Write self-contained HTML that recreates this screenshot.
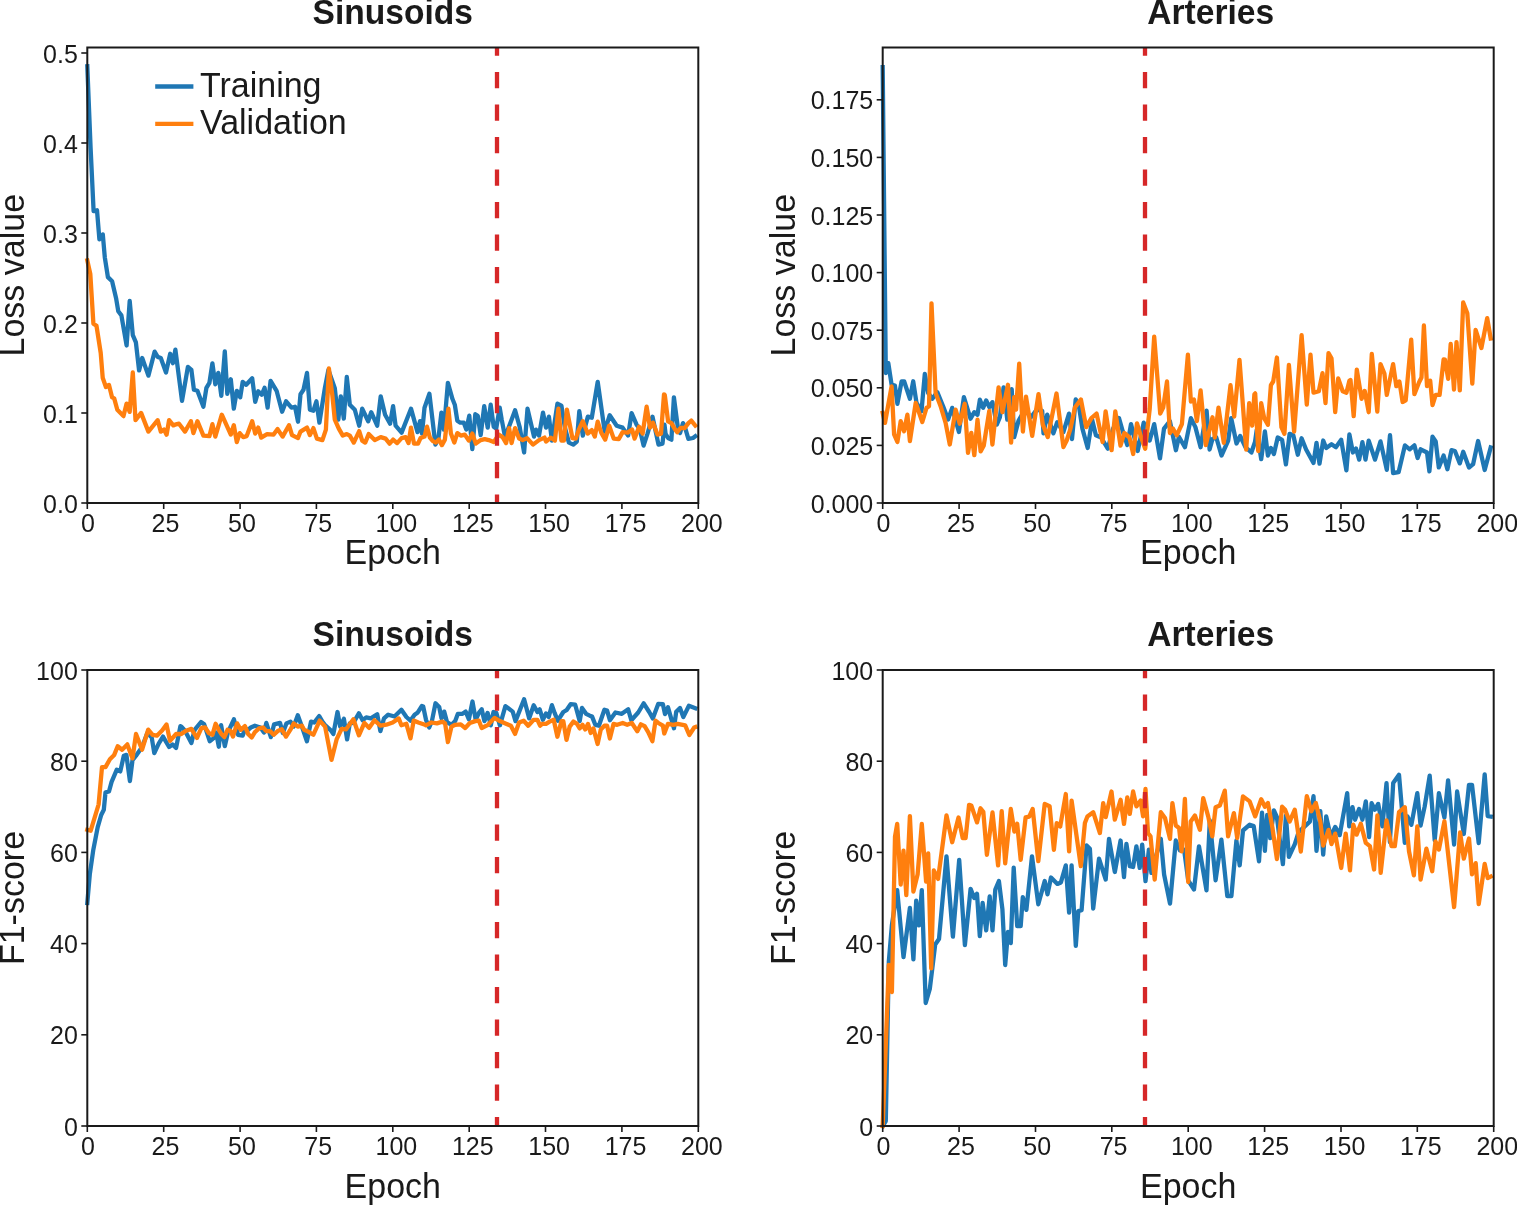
<!DOCTYPE html><html><head><meta charset="utf-8"><title>Training curves</title><style>
html,body{margin:0;padding:0;background:#fff;}body{width:1517px;height:1205px;overflow:hidden;}
svg{display:block;}text{font-family:"Liberation Sans", Arial, Helvetica, sans-serif;fill:#1a1a1a;}
.tk{font-size:25px;}.lb{font-size:34px;}.ti{font-size:33.6px;font-weight:bold;}
</style></head><body>
<svg width="1517" height="1205" viewBox="0 0 1517 1205">
<rect width="1517" height="1205" fill="#fff"/>
<g fill="none" stroke-width="4.3" stroke-linejoin="round" stroke-linecap="square">
<polyline stroke="#1f77b4" points="87.3,66.3 90.6,148.0 93.6,211.1 97.0,210.3 99.4,239.4 102.8,234.4 104.8,257.3 107.9,277.1 112.1,281.2 116.2,298.8 118.3,311.3 121.4,315.4 126.6,345.5 129.7,300.9 132.8,335.1 135.9,342.4 139.1,370.4 142.2,358.0 148.4,375.6 154.6,351.7 157.7,356.9 160.8,358.0 166.0,372.5 170.2,353.8 172.9,363.2 175.4,349.7 182.0,400.8 187.9,366.9 191.4,369.9 193.9,389.8 197.4,390.8 203.4,406.7 206.4,387.8 209.4,382.8 212.4,363.4 215.3,384.3 218.3,372.9 221.3,395.8 224.8,351.5 227.3,393.8 230.8,379.3 233.8,408.7 236.8,390.8 240.2,397.3 242.7,381.8 246.2,384.8 252.2,378.3 255.2,401.8 258.2,391.3 261.7,394.8 264.6,387.8 267.6,407.7 270.6,380.8 276.6,390.8 282.1,411.7 286.1,401.3 291.5,407.7 295.0,406.7 298.0,421.7 300.5,394.3 303.5,389.8 307.0,372.9 309.9,409.7 313.4,410.7 316.4,401.3 319.4,422.7 324.9,387.8 328.4,369.9 334.8,388.3 338.3,419.7 340.8,396.3 343.8,418.7 346.8,376.9 349.8,404.7 354.8,409.7 359.2,425.7 362.2,408.7 368.2,421.2 371.2,412.2 377.2,425.7 380.7,396.3 385.1,414.7 390.1,423.7 393.1,406.2 395.6,425.7 401.6,432.6 411.0,408.7 417.5,432.1 420.0,421.2 422.0,433.6 424.5,407.7 429.4,393.8 435.4,444.6 438.4,438.6 441.4,412.7 443.9,429.6 447.9,382.8 452.4,398.8 454.8,404.7 457.3,420.7 460.3,422.7 463.8,422.7 466.3,429.6 469.3,415.7 472.3,449.1 475.3,414.2 477.7,415.7 480.7,435.1 484.2,406.2 487.7,427.6 490.7,404.7 493.7,426.7 496.2,428.6 499.7,407.7 501.7,419.7 505.1,437.1 515.1,410.2 519.6,426.7 524.1,452.5 527.5,408.7 534.0,436.6 536.0,429.6 539.0,435.6 543.0,412.7 546.0,427.6 548.9,416.7 551.9,440.6 557.4,403.7 561.4,405.7 564.9,427.6 568.9,442.6 573.3,444.6 576.8,441.6 579.3,411.2 582.8,435.6 587.8,416.7 591.8,417.7 597.7,381.8 604.7,431.6 609.7,415.2 616.7,425.7 622.6,427.6 628.1,435.6 631.6,413.2 636.6,424.7 639.6,428.6 643.6,445.6 647.5,433.6 652.5,416.7 658.5,444.6 662.5,443.6 664.5,424.7 665.6,433.9 668.1,438.0 671.4,439.7 673.9,397.3 678.0,428.9 680.1,433.0 683.0,423.1 684.7,426.4 688.4,438.8 693.0,438.0 695.3,436.3"/>
<polyline stroke="#ff7f0e" points="87.3,260.5 90.3,273.9 93.4,323.7 96.5,325.8 100.7,352.8 102.7,377.7 105.9,387.0 109.0,384.9 112.1,397.4 114.2,398.4 117.3,409.8 123.5,416.1 126.6,403.6 129.7,411.9 132.8,372.5 135.5,420.2 141.1,412.9 148.4,431.6 157.7,420.2 160.8,431.6 164.0,429.5 166.6,434.7 169.1,420.2 173.3,425.4 175.0,424.7 179.0,423.7 185.0,431.6 190.9,421.2 193.4,433.1 197.4,421.2 203.4,435.6 209.4,436.1 212.4,424.2 215.3,436.6 221.8,414.7 230.8,434.6 233.8,425.2 236.8,442.1 239.7,433.1 243.2,437.1 246.7,436.1 252.2,421.2 255.2,433.6 258.2,427.6 261.2,437.6 267.1,434.1 273.6,434.6 277.6,429.1 282.6,436.6 289.0,425.2 292.0,435.1 298.0,438.1 300.5,431.6 307.0,427.6 309.9,435.1 313.4,428.1 316.9,438.6 322.4,440.1 325.9,429.6 328.9,368.4 332.4,395.8 334.8,419.7 338.8,428.6 342.8,435.6 346.8,434.1 349.8,435.6 353.8,442.6 359.2,431.1 362.2,440.6 365.2,442.6 368.7,434.1 374.7,440.1 380.7,437.1 385.6,438.6 389.6,443.6 393.1,439.6 397.1,443.1 401.6,438.1 405.6,437.1 408.5,443.1 411.0,427.6 414.0,443.6 418.0,443.6 420.5,438.1 424.5,436.6 427.0,426.7 429.9,437.6 432.9,441.1 435.9,442.6 438.9,439.6 441.9,445.1 444.9,439.6 448.4,408.7 450.9,433.6 454.3,442.6 457.3,433.1 460.8,435.6 464.8,434.6 468.8,440.6 472.3,433.6 475.8,443.6 480.7,440.1 484.7,439.1 488.7,440.1 493.7,442.1 498.7,434.6 502.6,437.1 506.1,443.1 509.1,428.1 511.6,443.1 515.1,428.1 519.1,438.6 522.6,440.1 527.1,438.1 533.0,444.6 539.0,440.1 544.5,437.6 546.0,441.6 550.9,437.6 554.9,440.6 558.4,408.7 561.4,440.6 563.9,440.6 566.9,409.7 572.4,438.1 575.8,438.6 578.8,429.6 582.8,421.2 587.8,433.6 591.8,430.1 594.8,436.6 597.7,421.7 601.2,432.6 605.2,439.6 609.2,425.7 613.7,438.6 618.7,439.1 622.6,432.1 627.6,432.6 632.1,429.6 634.6,438.6 639.1,426.7 642.6,433.6 646.6,406.7 650.0,427.6 653.0,422.7 657.5,434.6 661.0,433.6 664.0,394.3 664.8,394.9 668.1,421.4 671.4,423.1 674.7,428.9 677.2,432.2 680.5,428.0 684.7,428.0 688.4,423.1 691.3,420.6 695.3,425.6"/>
</g>
<line x1="497.0" y1="47.5" x2="497.0" y2="503.0" stroke="#d62728" stroke-width="4.3" stroke-dasharray="16.3,16.2" stroke-dashoffset="8"/>
<rect x="87.3" y="47.5" width="611.0" height="455.5" fill="none" stroke="#1a1a1a" stroke-width="2"/>
<line x1="87.3" y1="503.0" x2="87.3" y2="509.0" stroke="#1a1a1a" stroke-width="1.6"/>
<text class="tk" x="88.0" y="532.4" text-anchor="middle">0</text>
<line x1="163.7" y1="503.0" x2="163.7" y2="509.0" stroke="#1a1a1a" stroke-width="1.6"/>
<text class="tk" x="165.5" y="532.4" text-anchor="middle">25</text>
<line x1="240.1" y1="503.0" x2="240.1" y2="509.0" stroke="#1a1a1a" stroke-width="1.6"/>
<text class="tk" x="241.9" y="532.4" text-anchor="middle">50</text>
<line x1="316.4" y1="503.0" x2="316.4" y2="509.0" stroke="#1a1a1a" stroke-width="1.6"/>
<text class="tk" x="318.2" y="532.4" text-anchor="middle">75</text>
<line x1="392.8" y1="503.0" x2="392.8" y2="509.0" stroke="#1a1a1a" stroke-width="1.6"/>
<text class="tk" x="396.4" y="532.4" text-anchor="middle">100</text>
<line x1="469.2" y1="503.0" x2="469.2" y2="509.0" stroke="#1a1a1a" stroke-width="1.6"/>
<text class="tk" x="472.8" y="532.4" text-anchor="middle">125</text>
<line x1="545.5" y1="503.0" x2="545.5" y2="509.0" stroke="#1a1a1a" stroke-width="1.6"/>
<text class="tk" x="549.1" y="532.4" text-anchor="middle">150</text>
<line x1="621.9" y1="503.0" x2="621.9" y2="509.0" stroke="#1a1a1a" stroke-width="1.6"/>
<text class="tk" x="625.5" y="532.4" text-anchor="middle">175</text>
<line x1="698.3" y1="503.0" x2="698.3" y2="509.0" stroke="#1a1a1a" stroke-width="1.6"/>
<text class="tk" x="701.9" y="532.4" text-anchor="middle">200</text>
<line x1="81.3" y1="503.0" x2="87.3" y2="503.0" stroke="#1a1a1a" stroke-width="1.6"/>
<text class="tk" x="77.8" y="512.6" text-anchor="end">0.0</text>
<line x1="81.3" y1="413.0" x2="87.3" y2="413.0" stroke="#1a1a1a" stroke-width="1.6"/>
<text class="tk" x="77.8" y="422.6" text-anchor="end">0.1</text>
<line x1="81.3" y1="323.0" x2="87.3" y2="323.0" stroke="#1a1a1a" stroke-width="1.6"/>
<text class="tk" x="77.8" y="332.6" text-anchor="end">0.2</text>
<line x1="81.3" y1="233.0" x2="87.3" y2="233.0" stroke="#1a1a1a" stroke-width="1.6"/>
<text class="tk" x="77.8" y="242.6" text-anchor="end">0.3</text>
<line x1="81.3" y1="143.0" x2="87.3" y2="143.0" stroke="#1a1a1a" stroke-width="1.6"/>
<text class="tk" x="77.8" y="152.6" text-anchor="end">0.4</text>
<line x1="81.3" y1="53.0" x2="87.3" y2="53.0" stroke="#1a1a1a" stroke-width="1.6"/>
<text class="tk" x="77.8" y="62.6" text-anchor="end">0.5</text>
<text class="lb" transform="translate(392.8,564.0) scale(1,1.033)" text-anchor="middle">Epoch</text>
<text class="ti" transform="translate(392.8,24.1) scale(1,1.033)" text-anchor="middle">Sinusoids</text>
<text class="lb" transform="translate(24.0,275.2) rotate(-90) scale(1,1.033)" text-anchor="middle">Loss value</text>
<g fill="none" stroke-width="4.3" stroke-linejoin="round" stroke-linecap="square">
<polyline stroke="#1f77b4" points="882.7,67.2 885.8,373.0 888.3,363.1 891.6,384.7 894.9,385.5 897.4,403.8 901.6,381.3 904.1,381.3 909.9,398.8 913.2,381.3 916.5,402.9 921.5,411.2 924.8,373.9 928.2,393.0 932.3,398.8 937.3,392.1 943.1,406.2 948.1,419.5 952.2,407.9 958.9,432.0 963.9,397.1 970.5,418.7 974.3,412.2 977.5,414.7 979.9,399.7 983.1,407.8 986.2,400.4 989.3,407.2 992.4,402.2 996.8,424.6 999.9,417.2 1003.6,387.3 1007.3,419.7 1011.7,389.2 1014.2,437.1 1018.5,420.9 1024.8,409.7 1031.0,417.2 1036.6,409.7 1042.2,410.9 1043.5,433.4 1047.2,414.7 1053.4,433.4 1057.2,422.2 1063.4,432.1 1069.0,413.6 1072.0,439.0 1075.7,399.4 1078.7,404.6 1082.4,428.6 1087.7,448.0 1092.1,419.6 1095.9,435.3 1101.1,437.5 1107.8,448.7 1113.1,428.6 1119.0,418.1 1122.8,431.5 1127.3,445.0 1131.0,424.1 1137.7,451.0 1143.7,422.6 1149.7,440.5 1154.2,424.1 1160.0,458.4 1164.0,428.6 1169.9,421.1 1175.9,450.2 1178.9,436.8 1184.9,447.2 1190.9,418.1 1195.4,427.1 1200.6,447.2 1206.6,410.6 1209.6,449.5 1212.5,439.0 1216.3,437.5 1221.5,455.5 1228.2,440.5 1231.2,418.1 1236.5,443.5 1240.2,436.0 1245.4,447.2 1251.4,452.5 1255.0,442.0 1256.7,430.0 1261.2,459.2 1264.9,431.5 1267.9,455.5 1270.9,448.0 1273.9,454.0 1277.7,437.5 1282.1,439.8 1285.9,464.4 1289.6,433.8 1293.3,435.3 1297.8,454.7 1301.6,438.3 1306.1,449.5 1313.5,462.9 1316.5,442.8 1319.5,463.7 1323.2,440.5 1326.2,448.0 1331.5,444.2 1335.9,447.2 1341.2,439.8 1346.4,470.4 1349.4,434.5 1352.9,452.5 1356.0,448.5 1359.2,459.6 1362.4,442.2 1365.5,459.6 1368.7,440.6 1375.0,459.6 1380.5,441.4 1386.8,469.8 1390.0,435.1 1393.1,473.0 1398.6,472.2 1404.9,445.4 1409.7,449.3 1414.4,445.4 1417.6,458.0 1420.7,449.3 1427.0,452.5 1429.4,471.4 1432.5,436.7 1435.7,441.4 1438.8,467.4 1443.6,455.6 1447.4,469.2 1451.5,450.1 1454.9,451.0 1459.8,463.4 1463.2,451.8 1469.0,467.6 1473.1,464.2 1478.1,441.0 1484.7,470.0 1490.7,447.5"/>
<polyline stroke="#ff7f0e" points="882.7,412.9 885.0,422.9 891.6,386.3 894.1,434.5 897.4,442.0 900.7,421.2 904.1,431.2 907.4,414.6 909.9,441.1 915.7,402.9 922.3,422.0 926.5,407.9 929.0,406.2 931.5,303.3 935.6,393.0 940.6,406.2 945.6,422.9 949.8,444.5 955.6,409.6 959.7,423.7 964.7,403.8 968.0,452.8 971.3,432.8 974.3,455.2 977.5,419.7 980.6,451.4 983.7,445.8 989.3,410.9 992.4,444.6 998.6,387.3 1002.4,412.2 1008.0,384.8 1011.1,442.7 1014.2,397.2 1016.1,409.7 1019.2,363.6 1022.9,431.5 1026.0,396.6 1032.2,435.9 1038.5,394.1 1042.8,424.6 1047.8,437.1 1056.5,393.5 1063.4,447.1 1066.7,440.5 1070.5,428.6 1074.9,407.6 1080.9,399.4 1086.2,427.1 1091.4,418.1 1096.6,413.6 1102.6,442.0 1105.6,411.4 1111.6,450.2 1115.3,411.4 1120.5,445.7 1124.3,433.0 1129.5,437.5 1133.2,454.0 1137.0,423.3 1141.5,438.3 1145.2,448.7 1149.7,409.1 1154.2,336.6 1160.2,413.6 1163.2,407.6 1167.0,381.5 1169.9,433.0 1172.9,428.6 1176.7,435.3 1181.9,424.1 1187.9,354.6 1190.9,401.6 1193.9,399.4 1196.9,421.1 1200.6,390.4 1205.8,445.0 1212.5,417.3 1214.8,437.5 1218.5,407.6 1223.8,442.8 1230.5,385.2 1234.2,416.6 1239.5,359.8 1246.2,449.5 1249.2,403.1 1252.2,425.6 1254.4,394.2 1255.2,393.4 1258.2,451.0 1261.2,403.1 1264.2,418.1 1267.9,424.8 1270.9,385.2 1273.2,381.5 1276.9,357.5 1281.4,427.1 1284.4,433.8 1288.9,365.0 1294.1,431.5 1301.6,335.1 1306.8,404.6 1310.5,354.6 1313.5,392.7 1318.8,391.2 1322.5,373.2 1325.5,403.1 1328.5,353.1 1331.5,358.3 1335.2,412.1 1338.2,378.5 1342.7,391.2 1346.4,392.7 1349.4,380.7 1350.5,379.9 1353.7,416.2 1356.8,369.7 1361.6,398.8 1364.7,390.9 1368.7,412.2 1371.8,353.9 1377.3,411.5 1380.5,364.1 1384.4,373.6 1386.8,394.9 1393.1,364.1 1396.3,386.2 1399.4,381.5 1402.6,402.0 1405.7,400.4 1411.2,339.7 1414.4,394.1 1419.1,382.3 1421.5,377.5 1423.9,325.5 1427.0,386.2 1430.2,380.7 1432.5,405.1 1435.7,394.9 1439.6,394.9 1443.6,359.4 1444.9,359.7 1448.2,378.8 1450.7,343.9 1454.0,389.5 1456.5,342.2 1459.8,390.4 1463.2,302.4 1467.3,313.2 1472.3,383.7 1475.6,329.8 1481.4,348.0 1487.2,318.2 1490.7,338.6"/>
</g>
<line x1="1145.0" y1="47.5" x2="1145.0" y2="503.0" stroke="#d62728" stroke-width="4.3" stroke-dasharray="16.3,16.2" stroke-dashoffset="8"/>
<rect x="882.7" y="47.5" width="611.0" height="455.5" fill="none" stroke="#1a1a1a" stroke-width="2"/>
<line x1="882.7" y1="503.0" x2="882.7" y2="509.0" stroke="#1a1a1a" stroke-width="1.6"/>
<text class="tk" x="883.4" y="532.4" text-anchor="middle">0</text>
<line x1="959.1" y1="503.0" x2="959.1" y2="509.0" stroke="#1a1a1a" stroke-width="1.6"/>
<text class="tk" x="960.9" y="532.4" text-anchor="middle">25</text>
<line x1="1035.5" y1="503.0" x2="1035.5" y2="509.0" stroke="#1a1a1a" stroke-width="1.6"/>
<text class="tk" x="1037.2" y="532.4" text-anchor="middle">50</text>
<line x1="1111.8" y1="503.0" x2="1111.8" y2="509.0" stroke="#1a1a1a" stroke-width="1.6"/>
<text class="tk" x="1113.6" y="532.4" text-anchor="middle">75</text>
<line x1="1188.2" y1="503.0" x2="1188.2" y2="509.0" stroke="#1a1a1a" stroke-width="1.6"/>
<text class="tk" x="1191.8" y="532.4" text-anchor="middle">100</text>
<line x1="1264.6" y1="503.0" x2="1264.6" y2="509.0" stroke="#1a1a1a" stroke-width="1.6"/>
<text class="tk" x="1268.2" y="532.4" text-anchor="middle">125</text>
<line x1="1341.0" y1="503.0" x2="1341.0" y2="509.0" stroke="#1a1a1a" stroke-width="1.6"/>
<text class="tk" x="1344.5" y="532.4" text-anchor="middle">150</text>
<line x1="1417.3" y1="503.0" x2="1417.3" y2="509.0" stroke="#1a1a1a" stroke-width="1.6"/>
<text class="tk" x="1420.9" y="532.4" text-anchor="middle">175</text>
<line x1="1493.7" y1="503.0" x2="1493.7" y2="509.0" stroke="#1a1a1a" stroke-width="1.6"/>
<text class="tk" x="1497.3" y="532.4" text-anchor="middle">200</text>
<line x1="876.7" y1="503.0" x2="882.7" y2="503.0" stroke="#1a1a1a" stroke-width="1.6"/>
<text class="tk" x="873.2" y="512.6" text-anchor="end">0.000</text>
<line x1="876.7" y1="445.4" x2="882.7" y2="445.4" stroke="#1a1a1a" stroke-width="1.6"/>
<text class="tk" x="873.2" y="455.0" text-anchor="end">0.025</text>
<line x1="876.7" y1="387.8" x2="882.7" y2="387.8" stroke="#1a1a1a" stroke-width="1.6"/>
<text class="tk" x="873.2" y="397.4" text-anchor="end">0.050</text>
<line x1="876.7" y1="330.2" x2="882.7" y2="330.2" stroke="#1a1a1a" stroke-width="1.6"/>
<text class="tk" x="873.2" y="339.8" text-anchor="end">0.075</text>
<line x1="876.7" y1="272.6" x2="882.7" y2="272.6" stroke="#1a1a1a" stroke-width="1.6"/>
<text class="tk" x="873.2" y="282.2" text-anchor="end">0.100</text>
<line x1="876.7" y1="215.0" x2="882.7" y2="215.0" stroke="#1a1a1a" stroke-width="1.6"/>
<text class="tk" x="873.2" y="224.6" text-anchor="end">0.125</text>
<line x1="876.7" y1="157.4" x2="882.7" y2="157.4" stroke="#1a1a1a" stroke-width="1.6"/>
<text class="tk" x="873.2" y="167.0" text-anchor="end">0.150</text>
<line x1="876.7" y1="99.8" x2="882.7" y2="99.8" stroke="#1a1a1a" stroke-width="1.6"/>
<text class="tk" x="873.2" y="109.4" text-anchor="end">0.175</text>
<text class="lb" transform="translate(1188.2,564.0) scale(1,1.033)" text-anchor="middle">Epoch</text>
<text class="ti" transform="translate(1210.7,24.1) scale(1,1.033)" text-anchor="middle">Arteries</text>
<text class="lb" transform="translate(795.0,275.2) rotate(-90) scale(1,1.033)" text-anchor="middle">Loss value</text>
<g fill="none" stroke-width="4.3" stroke-linejoin="round" stroke-linecap="square">
<polyline stroke="#1f77b4" points="87.3,903.0 89.8,874.2 93.3,849.8 97.7,827.2 101.2,815.0 103.8,809.8 105.5,792.3 109.0,791.5 111.6,781.9 116.8,769.7 120.3,771.4 123.8,755.7 126.4,754.9 129.9,781.0 132.5,760.1 136.0,755.7 142.1,747.0 147.3,733.1 151.7,737.5 154.3,753.1 158.7,743.6 163.0,736.6 169.1,747.0 172.6,744.4 176.1,747.9 180.4,726.1 181.4,726.6 185.0,730.7 191.4,743.0 194.6,729.8 201.0,722.0 204.2,724.3 209.7,741.2 213.4,738.4 216.1,732.5 218.8,746.7 221.1,725.2 224.8,746.2 228.0,732.1 233.9,719.3 238.0,734.8 242.6,735.7 245.3,728.4 248.1,729.8 250.8,727.5 254.9,725.7 260.4,727.5 264.0,732.5 266.3,722.9 270.9,737.1 274.1,724.3 280.0,722.9 282.8,733.0 286.4,723.4 290.5,721.6 293.7,726.6 297.8,715.2 302.4,727.9 306.9,741.2 311.0,721.6 314.2,722.5 319.2,716.1 322.4,721.6 325.6,725.7 331.1,730.7 333.4,733.9 337.5,712.0 340.2,726.6 343.9,718.8 347.1,739.4 349.8,723.4 353.4,722.9 358.9,713.3 362.6,720.2 366.2,717.4 370.8,718.4 377.2,714.2 380.4,731.1 384.0,718.4 388.2,714.7 394.5,716.5 401.4,709.7 406.4,717.0 410.5,720.6 414.6,714.7 417.8,712.4 421.9,706.0 423.2,706.5 426.0,719.8 429.2,727.5 431.9,721.1 435.5,703.3 439.2,707.0 441.5,718.4 444.2,711.6 447.0,722.1 451.5,724.8 455.2,721.1 457.9,713.8 462.5,713.8 465.7,711.6 468.9,719.3 472.5,701.5 475.7,719.8 478.9,712.9 481.7,709.3 484.4,721.1 487.6,712.9 490.8,725.3 493.5,712.0 496.3,712.9 499.9,725.3 505.4,706.1 512.7,711.6 515.5,721.1 524.1,699.2 529.2,718.4 533.7,705.2 537.4,712.0 539.7,709.3 542.9,719.8 546.0,713.4 548.7,717.0 551.9,705.2 554.6,712.9 557.8,720.7 563.3,712.0 566.5,710.2 570.6,704.2 575.2,704.7 579.7,721.1 582.0,707.9 586.1,713.8 589.8,715.7 592.1,716.6 595.3,724.8 598.9,725.7 604.4,709.7 607.1,710.6 609.9,720.2 615.4,712.5 621.8,713.8 628.2,709.3 631.3,720.2 638.2,712.5 643.7,703.3 649.2,712.0 652.8,718.4 658.3,703.8 662.9,704.2 665.0,714.1 668.0,707.3 674.0,728.3 676.2,711.8 680.0,708.1 683.3,717.1 688.9,705.8 695.3,708.2"/>
<polyline stroke="#ff7f0e" points="87.3,829.8 90.7,830.7 98.6,804.5 102.0,767.1 105.5,767.1 109.9,759.2 114.2,754.9 117.7,746.2 122.1,749.7 127.3,744.4 132.5,758.4 136.0,734.0 142.1,749.7 148.2,729.6 152.6,734.8 156.9,735.7 162.1,730.5 166.5,724.4 170.0,740.9 176.1,734.0 181.3,734.0 186.0,730.7 191.4,728.9 196.9,738.0 201.5,727.9 205.1,727.5 208.8,733.0 212.4,734.8 215.6,723.8 218.8,729.8 221.6,734.3 224.3,737.1 227.5,729.8 230.7,731.1 233.0,736.6 237.1,723.4 240.8,729.8 244.9,726.1 248.1,733.9 251.7,737.5 254.9,732.1 259.0,728.4 263.1,727.5 266.3,731.1 270.0,731.1 273.6,734.8 278.2,730.7 281.8,729.3 286.0,736.6 290.1,730.2 293.7,723.4 297.8,726.6 301.9,725.7 304.1,729.8 308.2,731.6 313.3,734.8 319.7,720.6 325.1,726.6 331.5,759.9 336.6,739.4 341.6,728.9 346.1,729.3 353.4,719.3 358.9,735.3 364.4,722.9 369.0,727.9 374.5,720.2 380.4,725.7 386.3,724.7 392.7,722.5 398.7,718.4 401.4,725.2 406.4,723.8 410.5,738.4 413.7,720.6 418.3,722.5 425.0,724.7 426.0,725.3 431.4,722.5 436.9,723.4 442.4,721.6 445.1,723.4 447.9,742.1 451.5,726.6 455.2,724.8 460.7,724.3 465.2,728.0 469.8,723.0 475.3,721.1 478.9,720.7 481.7,728.0 488.1,724.8 494.5,717.9 499.9,721.1 505.4,723.4 510.9,725.7 515.0,733.9 519.1,722.5 523.7,720.7 528.2,725.7 533.7,719.8 537.4,719.8 540.1,725.7 542.3,723.9 546.0,723.9 549.6,721.6 553.7,719.8 557.4,736.7 561.5,721.1 563.3,721.1 566.5,739.9 569.7,726.6 573.4,721.6 577.0,723.9 579.7,728.4 582.5,724.8 585.2,729.4 588.0,723.9 590.7,733.0 593.4,728.4 597.6,744.0 600.8,729.4 604.4,725.7 607.1,725.7 609.9,738.5 613.5,723.9 617.2,724.8 622.7,723.0 627.2,724.8 631.8,723.0 637.3,731.2 640.9,724.3 644.6,726.2 648.2,732.1 652.4,741.2 655.5,720.7 658.3,723.0 662.9,725.7 664.3,733.5 668.0,723.8 673.3,724.9 677.7,723.8 685.2,725.3 689.3,735.0 694.2,727.5 695.3,727.1"/>
</g>
<line x1="497.0" y1="670.0" x2="497.0" y2="1126.0" stroke="#d62728" stroke-width="4.3" stroke-dasharray="16.3,16.2" stroke-dashoffset="8"/>
<rect x="87.3" y="670.0" width="611.0" height="456.0" fill="none" stroke="#1a1a1a" stroke-width="2"/>
<line x1="87.3" y1="1126.0" x2="87.3" y2="1132.0" stroke="#1a1a1a" stroke-width="1.6"/>
<text class="tk" x="88.0" y="1155.4" text-anchor="middle">0</text>
<line x1="163.7" y1="1126.0" x2="163.7" y2="1132.0" stroke="#1a1a1a" stroke-width="1.6"/>
<text class="tk" x="165.5" y="1155.4" text-anchor="middle">25</text>
<line x1="240.1" y1="1126.0" x2="240.1" y2="1132.0" stroke="#1a1a1a" stroke-width="1.6"/>
<text class="tk" x="241.9" y="1155.4" text-anchor="middle">50</text>
<line x1="316.4" y1="1126.0" x2="316.4" y2="1132.0" stroke="#1a1a1a" stroke-width="1.6"/>
<text class="tk" x="318.2" y="1155.4" text-anchor="middle">75</text>
<line x1="392.8" y1="1126.0" x2="392.8" y2="1132.0" stroke="#1a1a1a" stroke-width="1.6"/>
<text class="tk" x="396.4" y="1155.4" text-anchor="middle">100</text>
<line x1="469.2" y1="1126.0" x2="469.2" y2="1132.0" stroke="#1a1a1a" stroke-width="1.6"/>
<text class="tk" x="472.8" y="1155.4" text-anchor="middle">125</text>
<line x1="545.5" y1="1126.0" x2="545.5" y2="1132.0" stroke="#1a1a1a" stroke-width="1.6"/>
<text class="tk" x="549.1" y="1155.4" text-anchor="middle">150</text>
<line x1="621.9" y1="1126.0" x2="621.9" y2="1132.0" stroke="#1a1a1a" stroke-width="1.6"/>
<text class="tk" x="625.5" y="1155.4" text-anchor="middle">175</text>
<line x1="698.3" y1="1126.0" x2="698.3" y2="1132.0" stroke="#1a1a1a" stroke-width="1.6"/>
<text class="tk" x="701.9" y="1155.4" text-anchor="middle">200</text>
<line x1="81.3" y1="1126.0" x2="87.3" y2="1126.0" stroke="#1a1a1a" stroke-width="1.6"/>
<text class="tk" x="77.8" y="1135.6" text-anchor="end">0</text>
<line x1="81.3" y1="1034.8" x2="87.3" y2="1034.8" stroke="#1a1a1a" stroke-width="1.6"/>
<text class="tk" x="77.8" y="1044.4" text-anchor="end">20</text>
<line x1="81.3" y1="943.6" x2="87.3" y2="943.6" stroke="#1a1a1a" stroke-width="1.6"/>
<text class="tk" x="77.8" y="953.2" text-anchor="end">40</text>
<line x1="81.3" y1="852.4" x2="87.3" y2="852.4" stroke="#1a1a1a" stroke-width="1.6"/>
<text class="tk" x="77.8" y="862.0" text-anchor="end">60</text>
<line x1="81.3" y1="761.2" x2="87.3" y2="761.2" stroke="#1a1a1a" stroke-width="1.6"/>
<text class="tk" x="77.8" y="770.8" text-anchor="end">80</text>
<line x1="81.3" y1="670.0" x2="87.3" y2="670.0" stroke="#1a1a1a" stroke-width="1.6"/>
<text class="tk" x="77.8" y="679.6" text-anchor="end">100</text>
<text class="lb" transform="translate(392.8,1198.4) scale(1,1.033)" text-anchor="middle">Epoch</text>
<text class="ti" transform="translate(392.8,645.9) scale(1,1.033)" text-anchor="middle">Sinusoids</text>
<text class="lb" transform="translate(24.0,898.0) rotate(-90) scale(1,1.033)" text-anchor="middle">F1-score</text>
<g fill="none" stroke-width="4.3" stroke-linejoin="round" stroke-linecap="square">
<polyline stroke="#1f77b4" points="882.7,1126.0 885.8,1121.0 888.8,962.0 891.9,925.0 894.9,905.0 897.2,890.1 903.5,957.1 909.9,907.8 913.4,959.3 916.2,900.7 919.0,925.4 921.8,890.1 925.7,1003.0 929.8,989.0 935.2,944.5 939.0,939.0 946.5,856.3 952.9,936.7 959.2,859.8 964.9,945.1 970.6,888.8 974.2,898.0 977.0,893.7 979.8,936.0 982.6,902.9 986.2,930.4 989.7,896.5 992.5,930.4 995.3,889.5 998.9,881.0 1002.4,909.2 1005.2,965.0 1008.0,931.8 1010.8,943.1 1013.7,867.6 1017.2,926.2 1020.7,926.2 1022.8,897.2 1026.4,909.9 1032.0,856.3 1038.3,904.3 1044.7,881.0 1047.5,894.4 1051.0,877.5 1057.4,883.9 1060.9,882.4 1065.8,865.4 1069.1,912.7 1071.6,865.4 1075.8,945.9 1078.3,911.1 1081.6,910.2 1086.6,845.4 1089.9,848.8 1093.2,908.6 1099.0,858.7 1105.7,879.5 1109.0,838.8 1114.8,872.0 1120.6,840.5 1124.0,877.0 1126.4,843.8 1129.8,866.2 1133.1,867.0 1136.4,846.3 1139.7,867.9 1142.2,844.6 1145.5,881.2 1148.9,849.6 1151.4,872.9 1160.8,838.8 1164.1,874.5 1170.0,903.6 1175.8,840.5 1179.9,850.4 1184.1,849.6 1188.2,880.3 1194.0,889.5 1199.0,846.3 1206.5,890.3 1209.8,820.5 1215.6,880.3 1221.4,839.6 1227.3,896.1 1231.4,896.1 1236.4,840.5 1239.7,865.4 1243.0,830.5 1249.7,824.7 1253.7,826.1 1259.0,861.3 1262.0,812.7 1264.9,850.8 1267.2,814.9 1270.2,838.1 1273.9,810.4 1276.9,817.2 1282.9,864.2 1285.9,815.7 1288.9,856.8 1294.8,844.1 1298.6,832.1 1309.8,821.6 1313.5,796.2 1316.5,850.8 1320.3,811.2 1323.2,854.5 1326.2,816.4 1330.7,836.6 1335.2,826.9 1339.7,835.1 1347.2,793.2 1349.2,826.3 1352.5,807.2 1355.0,819.7 1359.1,808.9 1362.4,819.7 1365.8,801.4 1369.1,837.1 1371.6,803.1 1374.9,809.7 1378.2,803.9 1382.4,826.3 1386.5,783.1 1389.9,842.1 1393.2,783.1 1399.0,774.8 1404.8,842.9 1407.3,816.3 1411.4,824.7 1417.3,793.1 1420.6,825.5 1424.7,806.4 1429.7,775.6 1434.7,840.4 1438.9,793.1 1444.4,817.6 1448.1,780.3 1454.1,844.5 1457.1,791.5 1463.8,834.0 1469.0,784.8 1472.0,784.8 1478.7,843.0 1484.7,774.3 1487.7,816.1 1490.7,816.5"/>
<polyline stroke="#ff7f0e" points="882.7,1126.0 885.8,1045.0 888.8,965.0 891.9,992.0 895.0,836.5 897.2,823.9 900.7,884.5 903.5,850.6 906.3,895.1 909.9,816.1 913.4,891.6 917.6,874.6 921.8,823.9 926.1,881.7 928.2,853.5 931.2,968.4 933.8,870.4 938.1,878.9 946.5,815.4 952.2,842.2 958.5,817.5 962.7,838.0 965.6,838.0 969.1,804.8 971.3,805.5 977.0,822.4 980.5,808.3 983.3,811.8 986.9,854.8 992.5,812.5 998.1,865.4 1001.7,811.1 1005.2,863.3 1010.8,809.0 1014.4,831.6 1017.2,823.8 1020.7,859.8 1025.6,817.4 1029.2,816.7 1032.7,809.0 1038.3,861.2 1044.7,804.0 1049.6,806.2 1053.9,849.9 1056.7,823.1 1060.2,826.6 1065.8,794.0 1069.1,851.3 1071.6,800.6 1080.8,866.2 1084.9,823.0 1087.4,816.4 1093.2,812.2 1099.9,833.0 1103.2,803.1 1105.7,817.2 1111.5,791.5 1114.8,819.7 1120.6,799.8 1124.0,823.9 1127.3,797.3 1129.8,813.9 1133.1,791.5 1136.4,806.4 1140.6,800.6 1143.1,816.4 1145.5,789.0 1148.0,833.0 1150.5,836.3 1154.7,879.5 1160.8,812.2 1165.0,818.0 1170.0,838.8 1172.4,803.1 1175.8,825.5 1179.1,828.0 1181.6,851.3 1184.9,798.9 1188.2,882.0 1190.7,821.4 1194.9,815.5 1199.9,829.7 1203.2,798.1 1208.2,816.4 1212.3,836.3 1215.6,807.2 1219.8,805.6 1224.8,790.6 1228.1,836.3 1233.9,813.1 1237.2,838.0 1243.0,796.4 1249.7,801.4 1255.2,816.4 1261.2,799.2 1264.9,806.7 1267.9,803.0 1272.4,827.6 1276.9,859.0 1282.1,806.7 1285.1,809.7 1289.6,821.6 1294.8,809.7 1300.8,851.5 1306.8,796.2 1311.3,811.2 1315.8,803.0 1320.3,821.6 1323.2,845.6 1328.5,829.9 1331.5,844.1 1335.2,833.6 1341.2,868.0 1345.7,833.6 1350.0,870.3 1353.3,824.7 1356.6,834.6 1360.8,823.8 1365.8,842.9 1369.9,846.2 1374.1,869.5 1377.4,815.5 1380.7,872.8 1386.5,820.5 1391.5,846.2 1394.8,846.2 1399.0,812.2 1404.8,807.2 1409.0,851.2 1413.9,875.3 1417.3,826.3 1420.6,879.5 1426.4,848.7 1432.2,871.2 1435.5,841.3 1438.9,849.6 1444.4,821.3 1454.1,907.2 1460.1,832.5 1463.8,858.7 1469.0,838.5 1472.0,874.3 1475.7,863.1 1478.7,904.2 1484.7,863.9 1487.7,878.1 1490.7,876.6"/>
</g>
<line x1="1145.0" y1="670.0" x2="1145.0" y2="1126.0" stroke="#d62728" stroke-width="4.3" stroke-dasharray="16.3,16.2" stroke-dashoffset="8"/>
<rect x="882.7" y="670.0" width="611.0" height="456.0" fill="none" stroke="#1a1a1a" stroke-width="2"/>
<line x1="882.7" y1="1126.0" x2="882.7" y2="1132.0" stroke="#1a1a1a" stroke-width="1.6"/>
<text class="tk" x="883.4" y="1155.4" text-anchor="middle">0</text>
<line x1="959.1" y1="1126.0" x2="959.1" y2="1132.0" stroke="#1a1a1a" stroke-width="1.6"/>
<text class="tk" x="960.9" y="1155.4" text-anchor="middle">25</text>
<line x1="1035.5" y1="1126.0" x2="1035.5" y2="1132.0" stroke="#1a1a1a" stroke-width="1.6"/>
<text class="tk" x="1037.2" y="1155.4" text-anchor="middle">50</text>
<line x1="1111.8" y1="1126.0" x2="1111.8" y2="1132.0" stroke="#1a1a1a" stroke-width="1.6"/>
<text class="tk" x="1113.6" y="1155.4" text-anchor="middle">75</text>
<line x1="1188.2" y1="1126.0" x2="1188.2" y2="1132.0" stroke="#1a1a1a" stroke-width="1.6"/>
<text class="tk" x="1191.8" y="1155.4" text-anchor="middle">100</text>
<line x1="1264.6" y1="1126.0" x2="1264.6" y2="1132.0" stroke="#1a1a1a" stroke-width="1.6"/>
<text class="tk" x="1268.2" y="1155.4" text-anchor="middle">125</text>
<line x1="1341.0" y1="1126.0" x2="1341.0" y2="1132.0" stroke="#1a1a1a" stroke-width="1.6"/>
<text class="tk" x="1344.5" y="1155.4" text-anchor="middle">150</text>
<line x1="1417.3" y1="1126.0" x2="1417.3" y2="1132.0" stroke="#1a1a1a" stroke-width="1.6"/>
<text class="tk" x="1420.9" y="1155.4" text-anchor="middle">175</text>
<line x1="1493.7" y1="1126.0" x2="1493.7" y2="1132.0" stroke="#1a1a1a" stroke-width="1.6"/>
<text class="tk" x="1497.3" y="1155.4" text-anchor="middle">200</text>
<line x1="876.7" y1="1126.0" x2="882.7" y2="1126.0" stroke="#1a1a1a" stroke-width="1.6"/>
<text class="tk" x="873.2" y="1135.6" text-anchor="end">0</text>
<line x1="876.7" y1="1034.8" x2="882.7" y2="1034.8" stroke="#1a1a1a" stroke-width="1.6"/>
<text class="tk" x="873.2" y="1044.4" text-anchor="end">20</text>
<line x1="876.7" y1="943.6" x2="882.7" y2="943.6" stroke="#1a1a1a" stroke-width="1.6"/>
<text class="tk" x="873.2" y="953.2" text-anchor="end">40</text>
<line x1="876.7" y1="852.4" x2="882.7" y2="852.4" stroke="#1a1a1a" stroke-width="1.6"/>
<text class="tk" x="873.2" y="862.0" text-anchor="end">60</text>
<line x1="876.7" y1="761.2" x2="882.7" y2="761.2" stroke="#1a1a1a" stroke-width="1.6"/>
<text class="tk" x="873.2" y="770.8" text-anchor="end">80</text>
<line x1="876.7" y1="670.0" x2="882.7" y2="670.0" stroke="#1a1a1a" stroke-width="1.6"/>
<text class="tk" x="873.2" y="679.6" text-anchor="end">100</text>
<text class="lb" transform="translate(1188.2,1198.4) scale(1,1.033)" text-anchor="middle">Epoch</text>
<text class="ti" transform="translate(1210.7,645.9) scale(1,1.033)" text-anchor="middle">Arteries</text>
<text class="lb" transform="translate(795.0,898.0) rotate(-90) scale(1,1.033)" text-anchor="middle">F1-score</text>
<line x1="155.2" y1="86.5" x2="193.4" y2="86.5" stroke="#1f77b4" stroke-width="4.3"/>
<line x1="155.2" y1="123.8" x2="193.4" y2="123.8" stroke="#ff7f0e" stroke-width="4.3"/>
<text class="lb" transform="translate(200,97) scale(1,1.033)">Training</text>
<text class="lb" transform="translate(200,134.3) scale(1,1.033)">Validation</text>
</svg></body></html>
